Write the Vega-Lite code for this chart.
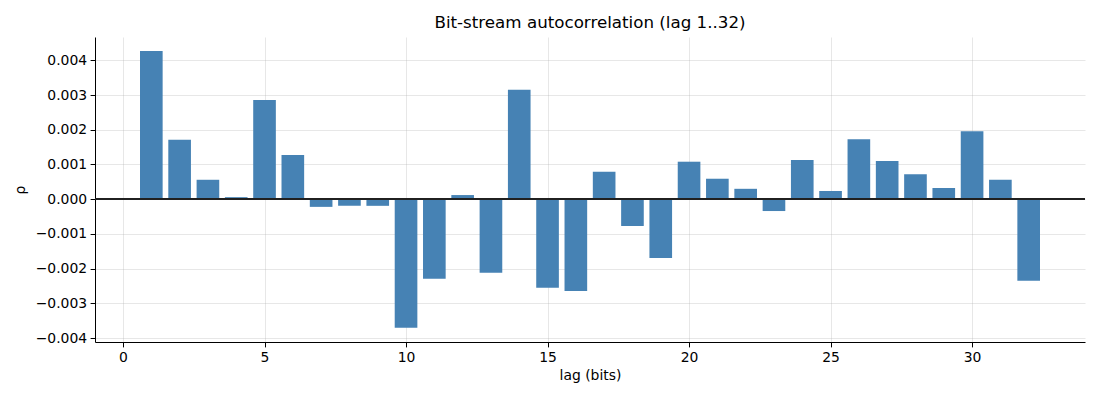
{
  "$schema": "https://vega.github.io/schema/vega-lite/v6.json",
  "width": 990,
  "height": 305,
  "autosize": "none",
  "padding": {"left": 95, "top": 37, "right": 15, "bottom": 58},
  "background": "white",
  "title": {
    "text": "Bit-stream autocorrelation (lag 1..32)",
    "font": "DejaVu Sans",
    "fontSize": 16.7,
    "fontWeight": "normal",
    "color": "black",
    "offset": 5,
    "anchor": "middle"
  },
  "config": {
    "view": {"stroke": null},
    "axis": {
      "labelFont": "DejaVu Sans",
      "labelFontSize": 13.9,
      "labelColor": "black",
      "labelOverlap": false,
      "titleFont": "DejaVu Sans",
      "titleFontSize": 13.9,
      "titleFontWeight": "normal",
      "titleColor": "black",
      "domainColor": "black",
      "domainWidth": 1,
      "tickColor": "black",
      "tickSize": 4.9,
      "tickWidth": 1,
      "labelPadding": 3.5,
      "grid": true,
      "gridColor": "#b0b0b0",
      "gridOpacity": 0.3,
      "gridWidth": 1,
      "zindex": 1
    }
  },
  "data": {
    "values": [
      {"lag": 1, "rho": 0.00427},
      {"lag": 2, "rho": 0.00171},
      {"lag": 3, "rho": 0.00056},
      {"lag": 4, "rho": 0.00006},
      {"lag": 5, "rho": 0.00286},
      {"lag": 6, "rho": 0.00127},
      {"lag": 7, "rho": -0.00022},
      {"lag": 8, "rho": -0.00019},
      {"lag": 9, "rho": -0.00019},
      {"lag": 10, "rho": -0.0037},
      {"lag": 11, "rho": -0.00229},
      {"lag": 12, "rho": 0.00012},
      {"lag": 13, "rho": -0.00212},
      {"lag": 14, "rho": 0.00315},
      {"lag": 15, "rho": -0.00255},
      {"lag": 16, "rho": -0.00264},
      {"lag": 17, "rho": 0.00079},
      {"lag": 18, "rho": -0.00077},
      {"lag": 19, "rho": -0.00169},
      {"lag": 20, "rho": 0.00108},
      {"lag": 21, "rho": 0.00059},
      {"lag": 22, "rho": 0.0003},
      {"lag": 23, "rho": -0.00034},
      {"lag": 24, "rho": 0.00113},
      {"lag": 25, "rho": 0.00024},
      {"lag": 26, "rho": 0.00173},
      {"lag": 27, "rho": 0.0011},
      {"lag": 28, "rho": 0.00072},
      {"lag": 29, "rho": 0.00032},
      {"lag": 30, "rho": 0.00196},
      {"lag": 31, "rho": 0.00056},
      {"lag": 32, "rho": -0.00235}
    ]
  },
  "transform": [
    {"calculate": "datum.lag - 0.4", "as": "lo"},
    {"calculate": "datum.lag + 0.4", "as": "hi"}
  ],
  "layer": [
    {
      "mark": {"type": "bar", "color": "#4682b4"},
      "encoding": {
        "x": {
          "field": "lo",
          "type": "quantitative",
          "scale": {"domain": [-0.99, 33.99], "nice": false, "zero": false},
          "axis": {"values": [0, 5, 10, 15, 20, 25, 30], "title": "lag (bits)", "titlePadding": 4, "format": "d"}
        },
        "x2": {"field": "hi"},
        "y": {
          "field": "rho",
          "type": "quantitative",
          "scale": {"domain": [-0.00411, 0.00467], "nice": false},
          "axis": {
            "values": [-0.004, -0.003, -0.002, -0.001, 0, 0.001, 0.002, 0.003, 0.004],
            "format": ".3f",
            "title": "ρ",
            "titlePadding": 8
          }
        },
        "y2": {"datum": 0}
      }
    },
    {
      "mark": {"type": "rule", "color": "#222222", "strokeWidth": 1},
      "encoding": {
        "y": {
          "datum": 0,
          "type": "quantitative",
          "axis": {
            "values": [-0.004, -0.003, -0.002, -0.001, 0, 0.001, 0.002, 0.003, 0.004],
            "format": ".3f",
            "title": "ρ",
            "titlePadding": 8
          }
        }
      }
    }
  ]
}
